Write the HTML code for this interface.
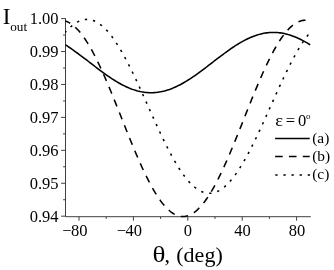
<!DOCTYPE html><html><head><meta charset="utf-8"><title>chart</title><style>html,body{margin:0;padding:0;background:#fff}svg{display:block}</style></head><body><svg width="334" height="270" viewBox="0 0 334 270">
<rect width="334" height="270" fill="#fff"/>
<g stroke="#404040" stroke-width="1" fill="none">
<path d="M65.5 18.1 V216.7 H310.8"/>
<path d="M65.5 18.60 H61.1"/>
<path d="M65.5 35.06 H63.1"/>
<path d="M65.5 51.53 H61.1"/>
<path d="M65.5 68.00 H63.1"/>
<path d="M65.5 84.46 H61.1"/>
<path d="M65.5 100.93 H63.1"/>
<path d="M65.5 117.39 H61.1"/>
<path d="M65.5 133.85 H63.1"/>
<path d="M65.5 150.32 H61.1"/>
<path d="M65.5 166.78 H63.1"/>
<path d="M65.5 183.25 H61.1"/>
<path d="M65.5 199.72 H63.1"/>
<path d="M65.5 216.18 H61.1"/>
<path d="M79.00 216.7 V220.7"/>
<path d="M106.20 216.7 V218.9"/>
<path d="M133.40 216.7 V220.7"/>
<path d="M160.60 216.7 V218.9"/>
<path d="M187.80 216.7 V220.7"/>
<path d="M215.00 216.7 V218.9"/>
<path d="M242.20 216.7 V220.7"/>
<path d="M269.40 216.7 V218.9"/>
<path d="M296.60 216.7 V220.7"/>
</g>
<g fill="none" stroke="#000" stroke-width="1.55">
<path d="M65.40 44.85 L66.76 45.71 L68.12 46.59 L69.48 47.50 L70.84 48.42 L72.20 49.35 L73.56 50.31 L74.92 51.27 L76.28 52.26 L77.64 53.25 L79.00 54.26 L80.36 55.27 L81.72 56.30 L83.08 57.33 L84.44 58.37 L85.80 59.41 L87.16 60.46 L88.52 61.51 L89.88 62.56 L91.24 63.61 L92.60 64.66 L93.96 65.71 L95.32 66.75 L96.68 67.79 L98.04 68.83 L99.40 69.85 L100.76 70.87 L102.12 71.87 L103.48 72.87 L104.84 73.85 L106.20 74.82 L107.56 75.77 L108.92 76.71 L110.28 77.63 L111.64 78.53 L113.00 79.41 L114.36 80.27 L115.72 81.11 L117.08 81.93 L118.44 82.72 L119.80 83.49 L121.16 84.24 L122.52 84.95 L123.88 85.64 L125.24 86.31 L126.60 86.94 L127.96 87.54 L129.32 88.11 L130.68 88.66 L132.04 89.17 L133.40 89.64 L134.76 90.09 L136.12 90.50 L137.48 90.88 L138.84 91.22 L140.20 91.53 L141.56 91.80 L142.92 92.03 L144.28 92.23 L145.64 92.40 L147.00 92.53 L148.36 92.62 L149.72 92.67 L151.08 92.69 L152.44 92.67 L153.80 92.62 L155.16 92.53 L156.52 92.40 L157.88 92.23 L159.24 92.03 L160.60 91.80 L161.96 91.53 L163.32 91.22 L164.68 90.88 L166.04 90.50 L167.40 90.09 L168.76 89.64 L170.12 89.17 L171.48 88.66 L172.84 88.11 L174.20 87.54 L175.56 86.94 L176.92 86.31 L178.28 85.64 L179.64 84.95 L181.00 84.24 L182.36 83.49 L183.72 82.72 L185.08 81.93 L186.44 81.11 L187.80 80.27 L189.16 79.41 L190.52 78.53 L191.88 77.63 L193.24 76.71 L194.60 75.77 L195.96 74.82 L197.32 73.85 L198.68 72.87 L200.04 71.87 L201.40 70.87 L202.76 69.85 L204.12 68.83 L205.48 67.79 L206.84 66.75 L208.20 65.71 L209.56 64.66 L210.92 63.61 L212.28 62.56 L213.64 61.51 L215.00 60.46 L216.36 59.41 L217.72 58.37 L219.08 57.33 L220.44 56.30 L221.80 55.27 L223.16 54.26 L224.52 53.25 L225.88 52.26 L227.24 51.27 L228.60 50.31 L229.96 49.35 L231.32 48.42 L232.68 47.50 L234.04 46.59 L235.40 45.71 L236.76 44.85 L238.12 44.01 L239.48 43.19 L240.84 42.40 L242.20 41.63 L243.56 40.89 L244.92 40.17 L246.28 39.48 L247.64 38.82 L249.00 38.19 L250.36 37.58 L251.72 37.01 L253.08 36.47 L254.44 35.96 L255.80 35.48 L257.16 35.04 L258.52 34.62 L259.88 34.25 L261.24 33.91 L262.60 33.60 L263.96 33.33 L265.32 33.09 L266.68 32.89 L268.04 32.72 L269.40 32.60 L270.76 32.50 L272.12 32.45 L273.48 32.43 L274.84 32.45 L276.20 32.50 L277.56 32.60 L278.92 32.72 L280.28 32.89 L281.64 33.09 L283.00 33.33 L284.36 33.60 L285.72 33.91 L287.08 34.25 L288.44 34.62 L289.80 35.04 L291.16 35.48 L292.52 35.96 L293.88 36.47 L295.24 37.01 L296.60 37.58 L297.96 38.19 L299.32 38.82 L300.68 39.48 L302.04 40.17 L303.40 40.89 L304.76 41.63 L306.12 42.40 L307.48 43.19 L308.84 44.01 L310.20 44.85"/>
<path d="M65.40 21.02 L66.76 21.51 L68.12 22.12 L69.48 22.84 L70.84 23.68 L72.20 24.64 L73.56 25.70 L74.92 26.89 L76.28 28.18 L77.64 29.59 L79.00 31.10 L80.36 32.72 L81.72 34.44 L83.08 36.27 L84.44 38.19 L85.80 40.21 L87.16 42.33 L88.52 44.54 L89.88 46.84 L91.24 49.23 L92.60 51.70 L93.96 54.26 L95.32 56.89 L96.68 59.59 L98.04 62.37 L99.40 65.22 L100.76 68.13 L102.12 71.10 L103.48 74.13 L104.84 77.22 L106.20 80.35 L107.56 83.53 L108.92 86.75 L110.28 90.01 L111.64 93.31 L113.00 96.64 L114.36 99.99 L115.72 103.37 L117.08 106.76 L118.44 110.17 L119.80 113.58 L121.16 117.01 L122.52 120.43 L123.88 123.86 L125.24 127.27 L126.60 130.68 L127.96 134.07 L129.32 137.44 L130.68 140.79 L132.04 144.11 L133.40 147.40 L134.76 150.65 L136.12 153.86 L137.48 157.04 L138.84 160.16 L140.20 163.23 L141.56 166.25 L142.92 169.21 L144.28 172.11 L145.64 174.94 L147.00 177.71 L148.36 180.40 L149.72 183.02 L151.08 185.55 L152.44 188.01 L153.80 190.38 L155.16 192.66 L156.52 194.86 L157.88 196.95 L159.24 198.96 L160.60 200.86 L161.96 202.67 L163.32 204.37 L164.68 205.97 L166.04 207.46 L167.40 208.84 L168.76 210.11 L170.12 211.27 L171.48 212.32 L172.84 213.25 L174.20 214.07 L175.56 214.77 L176.92 215.35 L178.28 215.82 L179.64 216.17 L181.00 216.39 L182.36 216.50 L183.72 216.49 L185.08 216.36 L186.44 216.11 L187.80 215.74 L189.16 215.25 L190.52 214.64 L191.88 213.92 L193.24 213.08 L194.60 212.12 L195.96 211.05 L197.32 209.87 L198.68 208.57 L200.04 207.17 L201.40 205.66 L202.76 204.04 L204.12 202.32 L205.48 200.49 L206.84 198.57 L208.20 196.54 L209.56 194.42 L210.92 192.21 L212.28 189.91 L213.64 187.52 L215.00 185.05 L216.36 182.50 L217.72 179.87 L219.08 177.16 L220.44 174.38 L221.80 171.54 L223.16 168.63 L224.52 165.65 L225.88 162.62 L227.24 159.54 L228.60 156.41 L229.96 153.23 L231.32 150.00 L232.68 146.74 L234.04 143.45 L235.40 140.12 L236.76 136.77 L238.12 133.39 L239.48 130.00 L240.84 126.59 L242.20 123.17 L243.56 119.75 L244.92 116.32 L246.28 112.90 L247.64 109.48 L249.00 106.08 L250.36 102.69 L251.72 99.32 L253.08 95.97 L254.44 92.65 L255.80 89.36 L257.16 86.11 L258.52 82.89 L259.88 79.72 L261.24 76.60 L262.60 73.52 L263.96 70.50 L265.32 67.54 L266.68 64.64 L268.04 61.81 L269.40 59.05 L270.76 56.36 L272.12 53.74 L273.48 51.20 L274.84 48.75 L276.20 46.38 L277.56 44.09 L278.92 41.90 L280.28 39.80 L281.64 37.80 L283.00 35.89 L284.36 34.09 L285.72 32.38 L287.08 30.79 L288.44 29.30 L289.80 27.91 L291.16 26.64 L292.52 25.48 L293.88 24.43 L295.24 23.50 L296.60 22.69 L297.96 21.98 L299.32 21.40 L300.68 20.94 L302.04 20.59 L303.40 20.36 L304.76 20.26 L306.12 20.27 L307.48 20.40 L308.84 20.65 L310.20 21.02" stroke-dasharray="7.3 6.48" stroke-dashoffset="2.0"/>
<path d="M65.40 32.36 L66.76 30.82 L68.12 29.36 L69.48 27.99 L70.84 26.72 L72.20 25.55 L73.56 24.48 L74.92 23.51 L76.28 22.63 L77.64 21.86 L79.00 21.20 L80.36 20.63 L81.72 20.17 L83.08 19.82 L84.44 19.57 L85.80 19.43 L87.16 19.39 L88.52 19.46 L89.88 19.64 L91.24 19.92 L92.60 20.30 L93.96 20.79 L95.32 21.39 L96.68 22.08 L98.04 22.89 L99.40 23.79 L100.76 24.79 L102.12 25.89 L103.48 27.10 L104.84 28.39 L106.20 29.78 L107.56 31.27 L108.92 32.85 L110.28 34.51 L111.64 36.27 L113.00 38.11 L114.36 40.03 L115.72 42.03 L117.08 44.12 L118.44 46.27 L119.80 48.50 L121.16 50.81 L122.52 53.18 L123.88 55.61 L125.24 58.10 L126.60 60.66 L127.96 63.27 L129.32 65.93 L130.68 68.64 L132.04 71.40 L133.40 74.20 L134.76 77.04 L136.12 79.92 L137.48 82.82 L138.84 85.76 L140.20 88.72 L141.56 91.71 L142.92 94.71 L144.28 97.72 L145.64 100.75 L147.00 103.78 L148.36 106.81 L149.72 109.85 L151.08 112.88 L152.44 115.90 L153.80 118.91 L155.16 121.91 L156.52 124.89 L157.88 127.84 L159.24 130.77 L160.60 133.67 L161.96 136.53 L163.32 139.36 L164.68 142.15 L166.04 144.89 L167.40 147.59 L168.76 150.24 L170.12 152.83 L171.48 155.37 L172.84 157.84 L174.20 160.26 L175.56 162.61 L176.92 164.89 L178.28 167.10 L179.64 169.23 L181.00 171.29 L182.36 173.27 L183.72 175.17 L185.08 176.98 L186.44 178.71 L187.80 180.35 L189.16 181.90 L190.52 183.36 L191.88 184.72 L193.24 185.99 L194.60 187.16 L195.96 188.24 L197.32 189.21 L198.68 190.08 L200.04 190.85 L201.40 191.52 L202.76 192.08 L204.12 192.54 L205.48 192.90 L206.84 193.15 L208.20 193.29 L209.56 193.33 L210.92 193.26 L212.28 193.08 L213.64 192.80 L215.00 192.42 L216.36 191.93 L217.72 191.33 L219.08 190.63 L220.44 189.83 L221.80 188.93 L223.16 187.92 L224.52 186.82 L225.88 185.62 L227.24 184.32 L228.60 182.93 L229.96 181.45 L231.32 179.87 L232.68 178.20 L234.04 176.45 L235.40 174.61 L236.76 172.69 L238.12 170.68 L239.48 168.60 L240.84 166.44 L242.20 164.21 L243.56 161.91 L244.92 159.54 L246.28 157.11 L247.64 154.61 L249.00 152.06 L250.36 149.45 L251.72 146.78 L253.08 144.07 L254.44 141.32 L255.80 138.51 L257.16 135.67 L258.52 132.80 L259.88 129.89 L261.24 126.96 L262.60 123.99 L263.96 121.01 L265.32 118.01 L266.68 115.00 L268.04 111.97 L269.40 108.94 L270.76 105.90 L272.12 102.87 L273.48 99.84 L274.84 96.82 L276.20 93.80 L277.56 90.81 L278.92 87.83 L280.28 84.88 L281.64 81.95 L283.00 79.05 L284.36 76.19 L285.72 73.36 L287.08 70.57 L288.44 67.83 L289.80 65.13 L291.16 62.48 L292.52 59.89 L293.88 57.35 L295.24 54.87 L296.60 52.46 L297.96 50.11 L299.32 47.83 L300.68 45.62 L302.04 43.48 L303.40 41.42 L304.76 39.45 L306.12 37.55 L307.48 35.73 L308.84 34.00 L310.20 32.36" stroke-dasharray="2.3 5.93" stroke-dashoffset="0.85"/>
<path d="M275.1 138.5 H309.7"/>
<path d="M275.1 156.5 H309.7" stroke-dasharray="7.6 6.25"/>
<path d="M275.3 174.9 H310" stroke-dasharray="2.3 5.8"/>
</g>
<g font-family="'Liberation Serif', serif" fill="#000">
<text x="58.5" y="24.0" font-size="16.5" text-anchor="end">1.00</text>
<text x="58.5" y="56.9" font-size="16.5" text-anchor="end">0.99</text>
<text x="58.5" y="89.9" font-size="16.5" text-anchor="end">0.98</text>
<text x="58.5" y="122.8" font-size="16.5" text-anchor="end">0.97</text>
<text x="58.5" y="155.7" font-size="16.5" text-anchor="end">0.96</text>
<text x="58.5" y="188.7" font-size="16.5" text-anchor="end">0.95</text>
<text x="58.5" y="221.6" font-size="16.5" text-anchor="end">0.94</text>
<text x="62.3" y="236.3" font-size="16.5">−</text>
<text x="71.0" y="236.3" font-size="16.5">80</text>
<text x="116.7" y="236.3" font-size="16.5">−</text>
<text x="125.5" y="236.3" font-size="16.5">40</text>
<text x="183.7" y="236.3" font-size="16.5">0</text>
<text x="234.3" y="236.3" font-size="16.5">40</text>
<text x="288.7" y="236.3" font-size="16.5">80</text>
<text x="2.7" y="23.6" font-size="23">I</text>
<text x="10.2" y="31" font-size="13.2">out</text>
<text transform="translate(152.6 261.9) scale(1.2 1)" font-size="22.5">θ</text>
<text x="164.6" y="261.9" font-size="22">,</text>
<text x="176.3" y="261.9" font-size="22">(deg)</text>
<text transform="translate(275.3 125.7) scale(1.12 1)" font-size="16.5">ε</text>
<text x="285.7" y="126.4" font-size="16.5">=</text>
<text x="298.1" y="125.7" font-size="16.5">0</text>
<text x="306" y="118.6" font-size="9">o</text>
<text x="312.2" y="143.3" font-size="15.4">(a)</text>
<text x="312.2" y="161.3" font-size="15.4">(b)</text>
<text x="312.2" y="179.0" font-size="15.4">(c)</text>
</g>
</svg></body></html>
